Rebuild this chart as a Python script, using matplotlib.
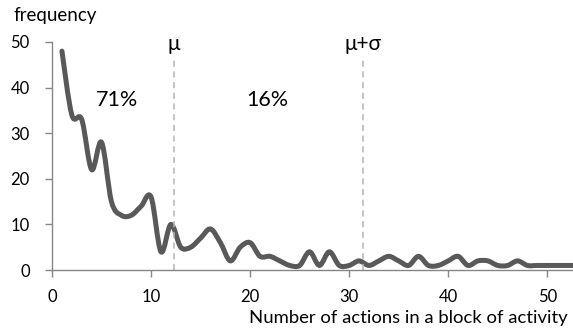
import numpy as np
import matplotlib
matplotlib.use("Agg")
from matplotlib import pyplot as plt
from matplotlib.path import Path
from matplotlib.patches import PathPatch

plt.rcParams['font.family'] = ['Lato', 'DejaVu Sans']

# number of actions in a block, and how often it occurs
actions = list(range(1, 54))
frequency = [48, 34, 33, 22, 28, 15, 12, 12, 14, 16,
             4, 10, 5, 5, 7, 9, 6, 2, 5, 6,
             3, 3, 2, 1, 1, 4, 1, 4, 1, 1,
             2, 1, 2, 3, 2, 1, 3, 1, 1, 2,
             3, 1, 2, 2, 1, 1, 2, 1, 1, 1,
             1, 1, 1]

mu = 12.3
mu_sigma = 31.4
shares = ["71%", "16%"]


def smooth_path(xs, ys):
    # excel-like smoothed line: bezier segments through every point
    pts = np.column_stack([xs, ys]).astype(float)
    verts = [pts[0]]
    codes = [Path.MOVETO]
    n = len(pts)
    for i in range(n - 1):
        p0 = pts[max(i - 1, 0)]
        p1 = pts[i]
        p2 = pts[i + 1]
        p3 = pts[min(i + 2, n - 1)]
        c1 = p1 + (p2 - p0) / 6.0
        c2 = p2 - (p3 - p1) / 6.0
        verts += [c1, c2, p2]
        codes += [Path.CURVE4] * 3
    return Path(verts, codes)


fig = plt.figure(figsize=(5.73, 3.32), dpi=100)
ax = fig.add_axes([0.0908, 0.1867, 0.9092, 0.6868])

ax.add_patch(PathPatch(smooth_path(actions, frequency), facecolor="none",
                       edgecolor="#595959", lw=3.6, capstyle="round",
                       joinstyle="round", clip_on=False))

for xv in (mu, mu_sigma):
    ax.plot([xv, xv], [0, 47], color="#b4b4b4", lw=1.1, ls=(0, (4, 3)))

ax.text(mu, 49.6, "μ", ha="center", va="center", fontsize=15)
ax.text(mu_sigma, 49.6, "μ+σ", ha="center", va="center", fontsize=15)
ax.text(6.6, 37.3, shares[0], ha="center", va="center", fontsize=15.5)
ax.text(21.7, 37.3, shares[1], ha="center", va="center", fontsize=15.5)

ax.set_xlim(0, 52.6)
ax.set_ylim(0, 50)
ax.set_xticks([0, 10, 20, 30, 40, 50])
ax.set_yticks([0, 10, 20, 30, 40, 50])

for s in ("top", "right"):
    ax.spines[s].set_visible(False)
for s in ("left", "bottom"):
    ax.spines[s].set_color("#868686")
    ax.spines[s].set_linewidth(1.0)
ax.tick_params(colors="#868686", labelcolor="black", labelsize=12,
               length=5, width=1.0)
ax.tick_params(axis="x", pad=9)
ax.tick_params(axis="y", pad=11)

fig.text(0.0227, 0.952, "frequency", ha="left", va="center", fontsize=13.5)
fig.text(0.712, 0.042, "Number of actions in a block of activity",
         ha="center", va="center", fontsize=13.3)

fig.savefig("out.png", dpi=100)
